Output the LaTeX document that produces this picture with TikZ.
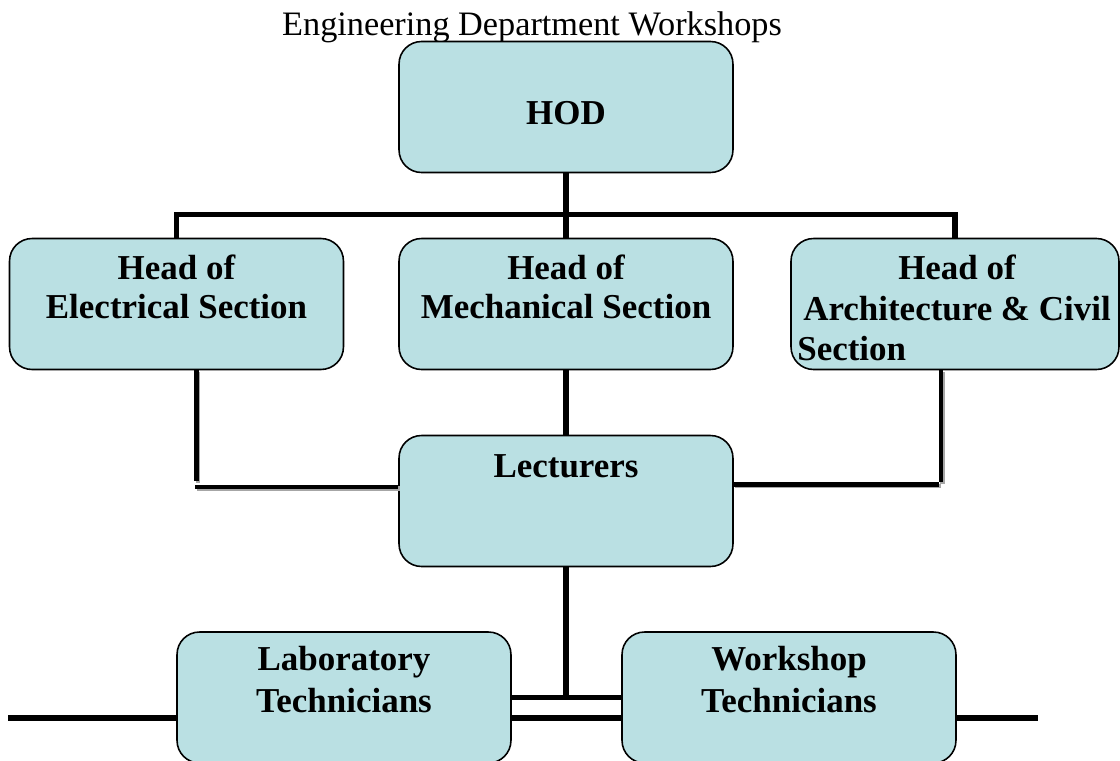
\documentclass[tikz,border=0pt]{standalone}
\usepackage{fontspec}
\setmainfont{Liberation Serif}
\usetikzlibrary{positioning}

\definecolor{boxfill}{RGB}{186,224,227}

\begin{document}
\begin{tikzpicture}[x=0.02cm, y=-0.02cm,
  unit/.style={draw=black, line width=0.9pt, fill=boxfill, rounded corners=0.45cm,
    minimum width=6.68cm, minimum height=2.62cm, inner sep=0pt},
  txt/.style={anchor=base, inner sep=0pt, font=\fontsize{19.9}{23}\selectfont\bfseries},
  link/.style={black, line width=3pt},
  sline/.style={black, line width=2.7pt,
    preaction={draw=gray!70, line width=2.7pt, transform canvas={shift={(0.9pt,-0.9pt)}}}}]
\useasboundingbox (0,0) rectangle (1120,761);

%title
\node[anchor=base, inner sep=0pt, font=\fontsize{19.5}{23}\selectfont] (title) at (532,35) {Engineering Department Workshops};

%boxes
\node[unit] (hod) at (566,107) {};
\node[unit] (elec) at (176.5,304) {};
\node[unit] (mech) at (566,304) {};
\node[unit, minimum width=6.56cm] (arch) at (955,304) {};
\node[unit] (lect) at (566,501) {};
\node[unit] (lab) at (344,697.5) {};
\node[unit] (wshop) at (789,697.5) {};

%texts
\node[txt] (hod-t) at (566,124) {HOD};
\node[txt] (elec-a) at (176.5,279) {Head of};
\node[txt] (elec-b) at (176.5,318) {Electrical Section};
\node[txt] (mech-a) at (566,279) {Head of};
\node[txt] (mech-b) at (566,318) {Mechanical Section};
\node[txt] (arch-a) at (957,279) {Head of};
\node[txt] (arch-b) at (957,320) {Architecture \& Civil};
\node[txt, anchor=base west] (arch-c) at (797,360) {Section};
\node[txt] (lect-t) at (566,477) {Lecturers};
\node[txt] (lab-a) at (344,670) {Laboratory};
\node[txt] (lab-b) at (344,712) {Technicians};
\node[txt] (wshop-a) at (789,670) {Workshop};
\node[txt] (wshop-b) at (789,712) {Technicians};

%top tree
\draw[link] (hod.south) -- (mech.north);
\draw[link] (elec.north) -- ++(0,-23) -| (arch.north);
\draw[link] (mech.south) -- (lect.north);

%side links to lecturers
\coordinate (lk1) at (196.5,481);
\coordinate (lk2) at (195,487);
\coordinate (rk1) at (941,482);
\coordinate (rk2) at (939,484.5);
\draw[sline] (elec.south -| lk1) -- (lk1);
\draw[sline] (lk2) -- (lect.west |- lk2);
\draw[sline] (arch.south -| rk1) -- (rk1);
\draw[sline] (lect.east |- rk2) -- (rk2);

%bottom links
\draw[link] (lect.south) -- ++(0,130) coordinate (tj);
\draw[link] (lab.east |- tj) -- (wshop.west |- tj);
\coordinate (lend) at (8,718);
\coordinate (rend) at (1038,718);
\draw[link] (lend) -- (lab.west |- lend);
\draw[link] (lab.east |- lend) -- (wshop.west |- lend);
\draw[link] (wshop.east |- lend) -- (rend);

\end{tikzpicture}
\end{document}
